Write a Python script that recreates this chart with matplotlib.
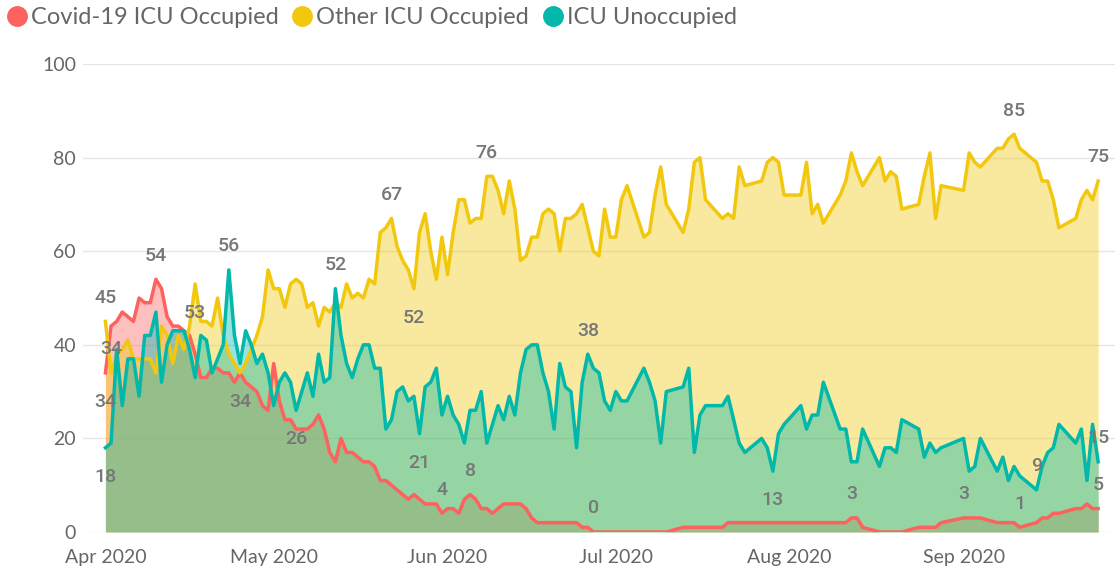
import pandas as pd
import matplotlib
matplotlib.use('Agg')
import matplotlib.pyplot as plt
import matplotlib.dates as mdates
from matplotlib.lines import Line2D

# reporting days: daily up to 3 Jul, weekdays only after that (31 Aug bank holiday missing)
daily = pd.date_range('2020-04-01', '2020-07-03')
weekdays = pd.bdate_range('2020-07-06', '2020-09-25')
weekdays = weekdays[weekdays != pd.Timestamp('2020-08-31')]
dates = daily.append(weekdays)

covid = [34, 44, 45, 47, 46, 45, 50, 49, 49, 54,
         52, 46, 44, 44, 43, 42, 38, 33, 33, 35,
         35, 34, 34, 32, 34, 32, 31, 30, 27, 26,
         36, 28, 24, 24, 22, 22, 22, 23, 25, 22,
         17, 15, 20, 17, 17, 16, 15, 15, 14, 11,
         11, 10, 9, 8, 7, 8, 7, 6, 6, 6,
         4, 5, 5, 4, 7, 8, 7, 5, 5, 4,
         5, 6, 6, 6, 6, 5, 3, 2, 2, 2,
         2, 2, 2, 2, 2, 1, 1, 0, 0, 0,
         0, 0, 0, 0,
         0, 0, 0, 0, 0, 1, 1, 1, 1, 1, 1, 2, 2, 2, 2,
         2, 2, 2, 2, 2, 2, 2, 2, 2, 2, 2, 2, 3, 3, 1,
         0, 0, 0, 0, 0, 1, 1, 1, 1, 2, 3, 3, 3, 3,
         2, 2, 2, 2, 1, 2, 3, 3, 4, 4, 5, 5, 6, 5, 5]

other = [45, 34, 38, 39, 41, 37, 37, 37, 37, 34,
         44, 42, 36, 42, 39, 44, 53, 45, 45, 44,
         50, 42, 38, 36, 34, 36, 39, 42, 46, 56,
         52, 52, 48, 53, 54, 53, 48, 49, 44, 48,
         47, 49, 48, 53, 50, 51, 50, 54, 53, 64,
         65, 67, 61, 58, 56, 52, 64, 68, 60, 54,
         63, 55, 64, 71, 71, 66, 67, 67, 76, 76,
         73, 68, 75, 69, 58, 59, 63, 63, 68, 69,
         68, 60, 67, 67, 68, 70, 65, 60, 59, 69,
         63, 63, 71, 74,
         63, 64, 72, 78, 70, 64, 69, 79, 80, 71, 67, 68, 67, 78, 74,
         75, 79, 80, 79, 72, 72, 79, 68, 70, 66, 72, 75, 81, 77, 74,
         80, 75, 77, 76, 69, 70, 76, 81, 67, 74, 73, 81, 79, 78,
         82, 82, 84, 85, 82, 79, 75, 75, 71, 65, 67, 71, 73, 71, 75]

unocc = [18, 19, 39, 27, 37, 37, 29, 42, 42, 47,
         32, 40, 43, 43, 43, 39, 33, 42, 41, 34,
         37, 40, 56, 42, 36, 43, 40, 36, 38, 34,
         27, 32, 34, 32, 26, 30, 34, 29, 38, 32,
         33, 52, 42, 36, 33, 37, 40, 40, 35, 35,
         22, 24, 30, 31, 28, 29, 21, 31, 32, 35,
         25, 29, 25, 23, 19, 26, 26, 30, 19, 23,
         27, 24, 29, 25, 34, 39, 40, 40, 34, 30,
         22, 36, 31, 30, 18, 32, 38, 35, 34, 28,
         26, 30, 28, 28,
         35, 32, 28, 19, 30, 31, 35, 17, 25, 27, 27, 29, 24, 19, 17,
         20, 18, 13, 21, 23, 27, 22, 25, 25, 32, 22, 22, 15, 15, 22,
         14, 18, 18, 17, 24, 22, 16, 19, 17, 18, 20, 13, 14, 20,
         13, 16, 11, 14, 12, 9, 14, 17, 18, 23, 19, 22, 11, 23, 15]

names = ['Covid-19 ICU Occupied', 'Other ICU Occupied', 'ICU Unoccupied']
colors = ['#FD625E', '#F2C80F', '#01B8AA']
series = {'covid': covid, 'other': other, 'unocc': unocc}

# data labels: (series, date, above/below)
labels = [('other', '2020-04-01', 1), ('other', '2020-04-02', 1),
          ('covid', '2020-04-01', -1), ('unocc', '2020-04-01', -1),
          ('covid', '2020-04-10', 1), ('other', '2020-04-17', -1),
          ('unocc', '2020-04-23', 1), ('covid', '2020-04-25', -1),
          ('unocc', '2020-05-05', -1), ('unocc', '2020-05-12', 1),
          ('other', '2020-05-22', 1), ('other', '2020-05-26', -1),
          ('unocc', '2020-05-27', -1), ('covid', '2020-05-31', 1),
          ('covid', '2020-06-05', 1), ('other', '2020-06-08', 1),
          ('unocc', '2020-06-26', 1), ('covid', '2020-06-27', 1),
          ('unocc', '2020-07-29', -1), ('covid', '2020-08-12', 1),
          ('covid', '2020-09-01', 1), ('covid', '2020-09-11', 1),
          ('unocc', '2020-09-14', 1), ('other', '2020-09-10', 1),
          ('other', '2020-09-25', 1), ('unocc', '2020-09-25', 1),
          ('covid', '2020-09-25', 1)]

W, H = 1115, 574
fig = plt.figure(figsize=(W / 100, H / 100), dpi=100)
ax = fig.add_axes([83 / W, 42 / H, 1 - 83 / W, (532 - 64) / H])

for vals, c in zip(series.values(), colors):
    ax.fill_between(dates, 0, vals, color=c, alpha=0.4, lw=0)
for vals, c in zip(series.values(), colors):
    ax.plot(dates, vals, color=c, lw=2.5, solid_joinstyle='round')

for key, day, side in labels:
    d = pd.Timestamp(day)
    v = series[key][dates.get_loc(d)]
    off = 17 if side > 0 else -21
    ax.annotate(str(v), (d, v), xytext=(0, off), textcoords='offset points',
                ha='center', va='center', fontsize=14, color='#777777',
                family='Roboto', fontweight='medium', annotation_clip=False)

start = mdates.date2num(dates[0])
ax.set_xlim(start - 4.0, start + 180.0)
ax.set_ylim(0, 100)
ax.set_yticks(range(0, 101, 20))
months = pd.date_range('2020-04-01', '2020-09-01', freq='MS')
ax.set_xticks(months)
ax.set_xticklabels([m.strftime('%b %Y') for m in months])
ax.grid(axis='y', color='#E6E6E6', lw=1)
ax.set_axisbelow(True)
ax.tick_params(length=0, labelsize=14, labelcolor='#666666')
ax.tick_params(axis='y', pad=5)
ax.tick_params(axis='x', pad=12)
for lab in ax.get_xticklabels() + ax.get_yticklabels():
    lab.set_family('Lato')
for s in ax.spines.values():
    s.set_visible(False)

handles = [Line2D([0], [0], marker='o', ls='', markersize=14,
                  markerfacecolor=c, markeredgecolor=c) for c in colors]
leg = fig.legend(handles, names, loc='center left', bbox_to_anchor=(0.0, 1 - 18 / H),
                 ncol=3, frameon=False, handlelength=0.8, handletextpad=0.2,
                 columnspacing=0.6, borderaxespad=0, borderpad=0.3,
                 prop={'family': 'Lato', 'size': 17})
for t in leg.get_texts():
    t.set_color('#666666')

fig.savefig('out.png', dpi=100)
